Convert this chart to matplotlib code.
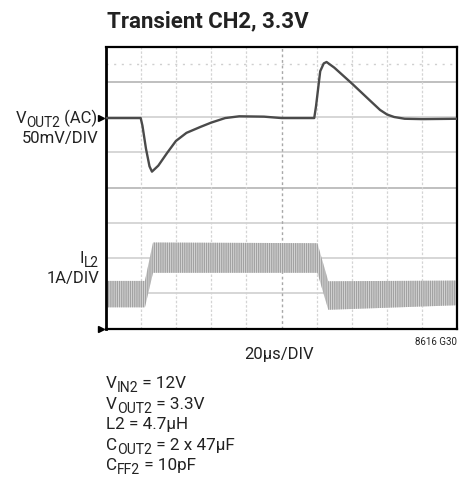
import numpy as np
import matplotlib
matplotlib.use("Agg")
import matplotlib.pyplot as plt
import matplotlib.transforms as mtransforms

plt.rcParams['font.family'] = ['Roboto', 'DejaVu Sans']
plt.rcParams['hatch.linewidth'] = 0.5

# scope traces, in divisions (10 x 8 screen)
vout_t = [0, 1.0, 1.05, 1.15, 1.25, 1.32, 1.5, 1.75, 2.0, 2.3, 2.7, 3.0,
          3.4, 3.8, 4.5, 5.0, 5.93, 5.98, 6.1, 6.2, 6.28, 6.5, 7.0, 7.5,
          7.8, 8.0, 8.2, 8.5, 9.0, 10]
vout_v = [5.97, 5.97, 5.75, 5.1, 4.6, 4.45, 4.62, 4.98, 5.32, 5.55, 5.72, 5.84,
          5.97, 6.02, 6.01, 5.97, 5.97, 6.3, 7.3, 7.52, 7.56, 7.4, 6.95, 6.48,
          6.2, 6.07, 6.0, 5.95, 5.94, 5.95]

# inductor current ripple envelope
il_t = [0, 1.12, 1.35, 6.02, 6.33, 10]
il_lo = [0.60, 0.60, 1.58, 1.58, 0.53, 0.66]
il_hi = [1.35, 1.35, 2.44, 2.42, 1.34, 1.36]

# (main, subscript, rest)
conditions = [('V', 'IN2', ' = 12V'),
              ('V', 'OUT2', ' = 3.3V'),
              ('L2 = 4.7µH', '', ''),
              ('C', 'OUT2', ' = 2 x 47µF'),
              ('C', 'FF2', ' = 10pF')]
cond_y = [382, 403, 423, 444, 464]

W, H = 471, 481
fig = plt.figure(figsize=(W / 100, H / 100), dpi=100)
renderer = fig.canvas.get_renderer()
INK = '#222222'


def px(x, y):
    return x / W, 1 - y / H


def sub_text(x, y, main, sub, rest, size=12, ha='left'):
    # text with a lowered, smaller subscript; x, y in pixels from top-left
    runs = [(main, size, 0), (sub, size * 0.82, 4), (rest, size, 0)]
    runs = [r for r in runs if r[0]]
    widths = []
    for s, fs, _ in runs:
        t = fig.text(0, 0, s, fontsize=fs)
        widths.append(t.get_window_extent(renderer).width)
        t.remove()
    x0 = x - sum(widths) if ha == 'right' else x
    for (s, fs, dy), w in zip(runs, widths):
        fig.text(*px(x0, y + dy), s, fontsize=fs, ha='left', va='baseline', color=INK)
        x0 += w


ax = fig.add_axes([105.5 / W, 1 - 329.5 / H, 352 / W, 282 / H])
ax.set_xlim(0, 10)
ax.set_ylim(0, 8)
ax.set_xticks([])
ax.set_yticks([])

# graticule
for y in range(1, 8):
    c = '#b4b4b4' if y in (4, 7) else '#cfcfcf'
    ax.axhline(y, color=c, lw=1.2, zorder=1)
ax.axhline(7.5, color='#cfcfcf', lw=1.0, ls=(0, (1.5, 4)), zorder=1)
for x in range(1, 10):
    if x == 5:
        ax.axvline(x, color='#a8a8a8', lw=1.0, ls=(0, (2, 2)), zorder=1)
    else:
        ax.axvline(x, color='#d4d4d4', lw=0.9, ls=(0, (2, 1.5)), zorder=1)

ax.fill_between(il_t, il_lo, il_hi, facecolor='#d2d2d2', edgecolor='#8e8e8e',
                hatch='|' * 9, lw=0, zorder=2)
ax.plot(vout_t, vout_v, color='#4a4a4a', lw=1.7, zorder=3)

for s in ax.spines.values():
    s.set_linewidth(1.6)
    s.set_color('black')
ax.spines['left'].set_linewidth(2.0)

# ground markers
trans = mtransforms.blended_transform_factory(ax.transAxes, ax.transData)
ax.plot([-0.012, -0.012], [5.97, 0], ls='none', marker='>', ms=4,
        color='black', transform=trans, clip_on=False)

fig.text(*px(208, 21), 'Transient CH2, 3.3V', fontsize=16, fontweight='bold',
         ha='center', va='center', color=INK)

sub_text(97, 123, 'V', 'OUT2', ' (AC)', ha='right')
fig.text(*px(99, 139), '50mV/DIV', fontsize=12, ha='right', va='center', color=INK)
sub_text(99, 263, 'I', 'L2', '', ha='right')
fig.text(*px(99, 278), '1A/DIV', fontsize=12, ha='right', va='center', color=INK)

fig.text(*px(279, 354), '20µs/DIV', fontsize=12, ha='center', va='center', color=INK)
fig.text(*px(457, 342), '8616 G30', fontsize=7, ha='right', va='center', color=INK)

for (m, sb, r), yy in zip(conditions, cond_y):
    sub_text(106, yy + 6, m, sb, r, size=12.3)

fig.savefig('out.png', dpi=100)
